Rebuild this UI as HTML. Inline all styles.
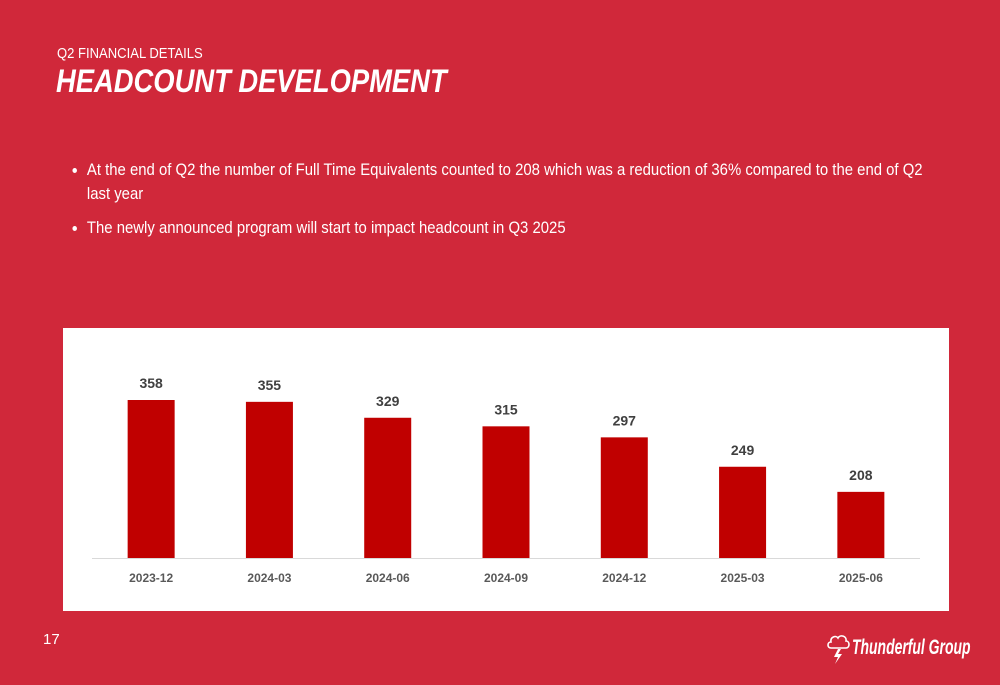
<!DOCTYPE html>
<html><head><meta charset="utf-8">
<style>
body{margin:0;width:1000px;height:685px;background:#D0283A;font-family:"Liberation Sans",sans-serif;color:#fff;position:relative;overflow:hidden}
.sub{position:absolute;left:57px;top:45px;font-size:15px;white-space:nowrap;transform:scaleX(0.87);transform-origin:left top}
.title{position:absolute;left:56px;top:63px;font-size:32px;font-weight:bold;font-style:italic;white-space:nowrap;transform:scaleX(0.855);transform-origin:left top}
ul{position:absolute;left:58px;top:158px;width:943px;margin:0;padding:0 0 0 32px;font-size:16.5px;line-height:24px;transform:scaleX(0.903);transform-origin:left top}
li{margin-bottom:10px}
.pg{position:absolute;left:43px;top:631px;font-size:15px}
.logo{position:absolute;left:826px;top:631px;display:flex;align-items:center;white-space:nowrap}
.logo span{display:inline-block;font-size:21px;font-weight:bold;font-style:italic;transform:scaleX(0.664);transform-origin:left center}
</style></head><body>
<div class="sub">Q2 FINANCIAL DETAILS</div>
<div class="title">HEADCOUNT DEVELOPMENT</div>
<ul>
<li>At the end of Q2 the number of Full Time Equivalents counted to 208 which was a reduction of 36% compared to the end of Q2 last year</li>
<li>The newly announced program will start to impact headcount in Q3 2025</li>
</ul>
<svg id="chart" style="position:absolute;left:63px;top:328px" width="886" height="283"></svg>
<div class="pg">17</div>
<div class="logo">
<svg width="26" height="34" viewBox="0 0 26 34"><path d="M5 17c-4 0-4-6 0-6c-1-5 5-7 7-4c2-4 9-2 8 3c4 0 4 7 0 7z" fill="none" stroke="#fff" stroke-width="1.6"/><path d="M12 18l-4 8h4l-3 7l7-10h-4l3-5z" fill="#fff"/></svg>
<span>Thunderful Group</span>
</div>
<script>
const categories=["2023-12","2024-03","2024-06","2024-09","2024-12","2025-03","2025-06"];
const values=[358,355,329,315,297,249,208];
const axisMin=100, axisMax=358;
const svg=document.getElementById('chart');
const NS='http://www.w3.org/2000/svg';
const W=886,H=283,baseY=230,topY=72,x0=29,x1=857;
const FF='Liberation Sans, sans-serif';
function y(v){return baseY-(v-axisMin)/(axisMax-axisMin)*(baseY-topY);}
function xc(i){return x0+(x1-x0)/categories.length*(i+0.5);}
const bg=document.createElementNS(NS,'rect');
bg.setAttribute('width',W);bg.setAttribute('height',H);bg.setAttribute('fill','#fff');


svg.appendChild(bg);
categories.forEach((c,i)=>{
  const r=document.createElementNS(NS,'rect');
  r.setAttribute('x',xc(i)-23.5);r.setAttribute('y',y(values[i]));
  r.setAttribute('width',47);r.setAttribute('height',baseY-y(values[i]));
  r.setAttribute('fill','#C00000');
  
  
  svg.appendChild(r);
  const t=document.createElementNS(NS,'text');
  t.setAttribute('x',xc(i));t.setAttribute('y',y(values[i])-12);
  t.setAttribute('text-anchor','middle');t.setAttribute('font-size','14');t.setAttribute('font-weight','bold');
  t.setAttribute('fill','#404040');t.setAttribute('font-family',FF);
  t.textContent=values[i];
  
  
  svg.appendChild(t);
  const l=document.createElementNS(NS,'text');
  l.setAttribute('x',xc(i));l.setAttribute('y',254);
  l.setAttribute('text-anchor','middle');l.setAttribute('font-size','12');l.setAttribute('font-weight','bold');
  l.setAttribute('fill','#595959');l.setAttribute('font-family',FF);
  l.textContent=c;
  
  
  svg.appendChild(l);
});
const ax=document.createElementNS(NS,'line');
ax.setAttribute('x1',x0);ax.setAttribute('x2',x1);ax.setAttribute('y1',baseY+0.5);ax.setAttribute('y2',baseY+0.5);
ax.setAttribute('stroke','#d9d9d9');ax.setAttribute('stroke-width','1');


svg.appendChild(ax);
</script>
</body></html>
